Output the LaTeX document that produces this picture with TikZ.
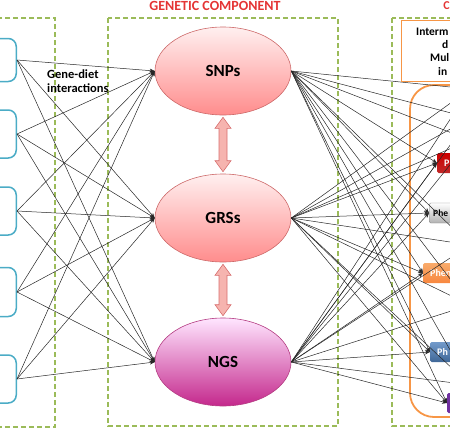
\documentclass[tikz,border=0pt]{standalone}
\usepackage{fontspec}
\setmainfont{Carlito}
\usetikzlibrary{arrows.meta,positioning,calc,shapes.geometric}
\definecolor{grnd}{RGB}{155,187,89}
\definecolor{cyanb}{RGB}{75,172,198}
\definecolor{orgb}{RGB}{247,150,70}
\definecolor{redt}{RGB}{228,52,52}
\definecolor{genered}{RGB}{205,105,105}
\definecolor{ngsedge}{RGB}{180,60,130}
\definecolor{ngsbot}{RGB}{196,40,140}
\definecolor{arrfill}{RGB}{246,180,175}
\definecolor{arredge}{RGB}{215,110,110}
\definecolor{phblue}{RGB}{79,129,189}
\definecolor{phred}{RGB}{192,40,40}
\definecolor{phviolet}{RGB}{112,48,160}

\begin{document}
\begin{tikzpicture}[x=1pt,y=-1pt,
  grpbox/.style={draw=grnd,line width=1.6pt,dash pattern=on 5pt off 3pt},
  dietbox/.style={draw=cyanb,line width=1.5pt,rounded corners=8pt,fill=white,minimum width=44pt,minimum height=46pt,anchor=east},
  gene/.style={ellipse,draw=genered,line width=0.6pt,minimum width=136pt,minimum height=88pt,font=\bfseries\fontsize{17}{20}\selectfont},
  link/.style={draw=black!85,line width=0.5pt,-{Stealth[length=5pt,width=4pt]}},
  loose/.style={draw=black!85,line width=0.5pt},
  dblarrow/.style={fill=arrfill,draw=arredge,line width=0.6pt},
  pheno/.style={anchor=west,minimum height=20pt,text width=60pt,inner xsep=7pt,rounded corners=1.5pt,font=\bfseries\fontsize{10}{11}\selectfont,align=left,text=white},
  frag/.style={font=\bfseries\fontsize{11.5}{13}\selectfont,anchor=west,inner sep=0}
]
\useasboundingbox (0,0) rectangle (450,429);
\clip (0,0) rectangle (450,429);

% groups
\draw[grpbox] (-10,18) rectangle (55,427);
\draw[grpbox] (108,18) rectangle (338,426);
\draw[grpbox] (392,18) rectangle (470,426);
\node[font=\bfseries\fontsize{14}{16}\selectfont,text=redt] (gtitle) at (215,6) {GENETIC COMPONENT};
\node[font=\bfseries\fontsize{12}{14}\selectfont,text=redt,anchor=east,inner sep=0] (otitle) at (450,6) {C};

% diet boxes
\node[dietbox,minimum height=43pt] (d1) at (17,60) {};
\node[dietbox,minimum height=48pt] (d2) at (17,134) {};
\node[dietbox,minimum height=48pt] (d3) at (17,211) {};
\node[dietbox,minimum height=49pt] (d4) at (17,292) {};
\node[dietbox,minimum height=48pt] (d5) at (17,379) {};

% genetic nodes
\node[gene,top color=red!6,bottom color=red!45!white] (snps) at (223,71) {SNPs};
\node[gene,top color=red!6,bottom color=red!45!white] (grs) at (223,218) {GRSs};
\node[gene,draw=ngsedge,top color=magenta!10,bottom color=ngsbot] (ngs) at (223,362) {NGS};

% intermediate phenotypes
\draw[orgb,line width=1.8pt,rounded corners=24pt] (500,85) -- (410,85) -- (410,417) -- (500,417);
\node[pheno,top color=red!80!black,bottom color=phred] (p1) at (437,163) {P};
\node[pheno,top color=white,bottom color=black!30,draw=black!50,text=black,inner xsep=4pt,font=\bfseries\fontsize{9.5}{11}\selectfont] (p2) at (429,213) {Phe};
\node[pheno,top color=orgb!80,bottom color=orgb!90!red] (p3) at (423,273) {Phen};
\node[pheno,top color=phblue!80,bottom color=phblue!80!black] (p4) at (430,352) {Ph};
\node[pheno,fill=phviolet] (p5) at (447,403) {};

\coordinate (r1) at (470,89);
\coordinate (r2) at (470,118);
\coordinate (r3) at (470,140);
\coordinate (r4) at (470,245);
\coordinate (r5) at (470,305);
\coordinate (r6) at (470,385);

% links
\foreach \d in {d1,d2,d3,d4,d5}
  \foreach \g in {snps,grs,ngs}
    \draw[link] (\d.east) -- (\g.west);
\foreach \g in {snps,grs,ngs}{
  \foreach \p in {p1,p2,p3,p4,p5}
    \draw[link] (\g.east) -- (\p.west);
  \foreach \r in {r1,r2,r3,r4,r5,r6}
    \draw[loose] (\g.east) -- (\r);
}

\node[draw=orgb,line width=1pt,fill=white,anchor=north west,minimum width=90pt,minimum height=61pt] (ibox) at (401,20) {};
\node[frag] (i1) at (416,32) {Interm};
\node[frag] (i2) at (442,45) {d};
\node[frag] (i3) at (430,58) {Mul};
\node[frag] (i4) at (438,71) {in};

\node[font=\bfseries\fontsize{12.5}{14}\selectfont,align=left,anchor=west,inner sep=0] (gd) at (47,81) {Gene-diet\\interactions};

% double arrows
\filldraw[dblarrow] ($(snps.south)+(0,2)$) -- ++(8,11) -- ++(-4,0) -- ($(grs.north)+(4,-13)$) -- ++(4,0) -- ($(grs.north)+(0,-2)$) -- ++(-8,-11) -- ++(4,0) -- ($(snps.south)+(-4,13)$) -- ++(-4,0) -- cycle;
\filldraw[dblarrow] ($(grs.south)+(0,2)$) -- ++(8,11) -- ++(-4,0) -- ($(ngs.north)+(4,-13)$) -- ++(4,0) -- ($(ngs.north)+(0,-2)$) -- ++(-8,-11) -- ++(4,0) -- ($(grs.south)+(-4,13)$) -- ++(-4,0) -- cycle;
\end{tikzpicture}
\end{document}
